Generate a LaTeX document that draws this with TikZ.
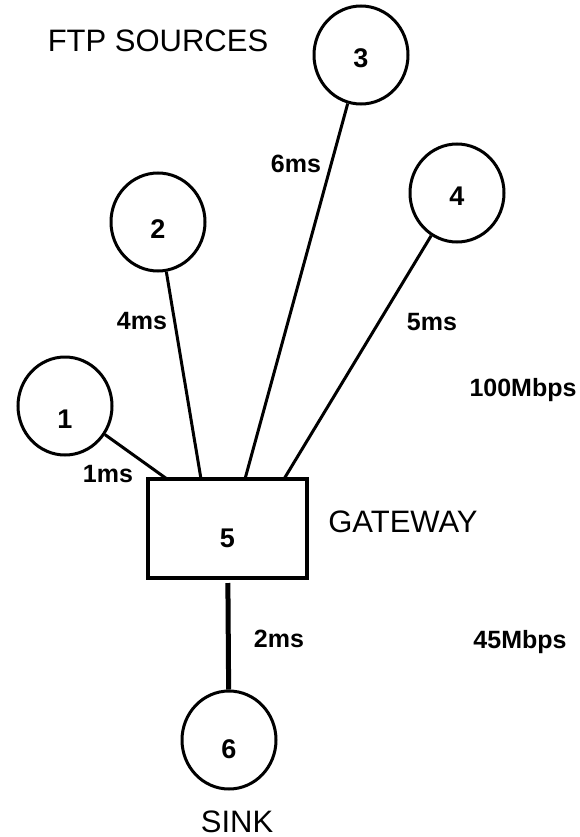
\documentclass[tikz,border=0pt]{standalone}
\usepackage{fontspec}
\setmainfont{Liberation Sans}
\usetikzlibrary{shapes.geometric}
\begin{document}
\begin{tikzpicture}[x=1pt,y=-1pt,
  host/.style={ellipse,draw,line width=3pt,minimum width=94pt,minimum height=98pt,inner sep=0pt,
    font=\fontsize{27}{27}\selectfont\bfseries,text height=34pt,text depth=0pt},
  gw/.style={rectangle,draw,line width=4pt,minimum width=159pt,minimum height=99pt,inner sep=0pt,
    font=\fontsize{27}{27}\selectfont\bfseries,text height=37pt,text depth=0pt},
  link/.style={line width=3pt},
  biglink/.style={line width=5pt,shorten <=3pt},
  ms/.style={font=\fontsize{25}{25}\selectfont\bfseries,anchor=base,inner sep=0pt},
  big/.style={font=\fontsize{31}{31}\selectfont,anchor=base,inner sep=0pt}]
\useasboundingbox (0,0) rectangle (579,837);

% nodes
\node[host,text height=44pt] (c1) at (65,406) {1};
\node[host,text height=32pt] (c2) at (158,222) {2};
\node[host,text height=26pt] (c3) at (361,55) {3};
\node[host,text height=24pt] (c4) at (457,193) {4};
\node[gw] (box) at (227.5,528.5) {5};
\node[host,text height=36pt] (c6) at (229,740) {6};

% attachment points on the gateway top
\coordinate (t1) at (167,479);
\coordinate (t2) at (201,479);
\coordinate (t3) at (245,479);
\coordinate (t4) at (284,479);

% connectors
\draw[link] (c1) -- (t1);
\draw[link] (c2) -- (t2);
\draw[link] (c3) -- (t3);
\draw[link] (c4) -- (t4);
\draw[biglink] (box) -- (c6);

% labels
\node[big] (ftp) at (158,52) {FTP SOURCES};
\node[big] (gwl) at (403,532) {GATEWAY};
\node[big] (sink) at (237,832) {SINK};
\node[ms] (l6) at (296,172) {6ms};
\node[ms] (l4) at (142,329) {4ms};
\node[ms] (l5) at (432,330) {5ms};
\node[ms] (l1) at (108,482) {1ms};
\node[ms] (l2) at (279,647) {2ms};
\node[ms] (bw1) at (523,396) {100Mbps};
\node[ms] (bw2) at (520,648) {45Mbps};
\end{tikzpicture}
\end{document}
